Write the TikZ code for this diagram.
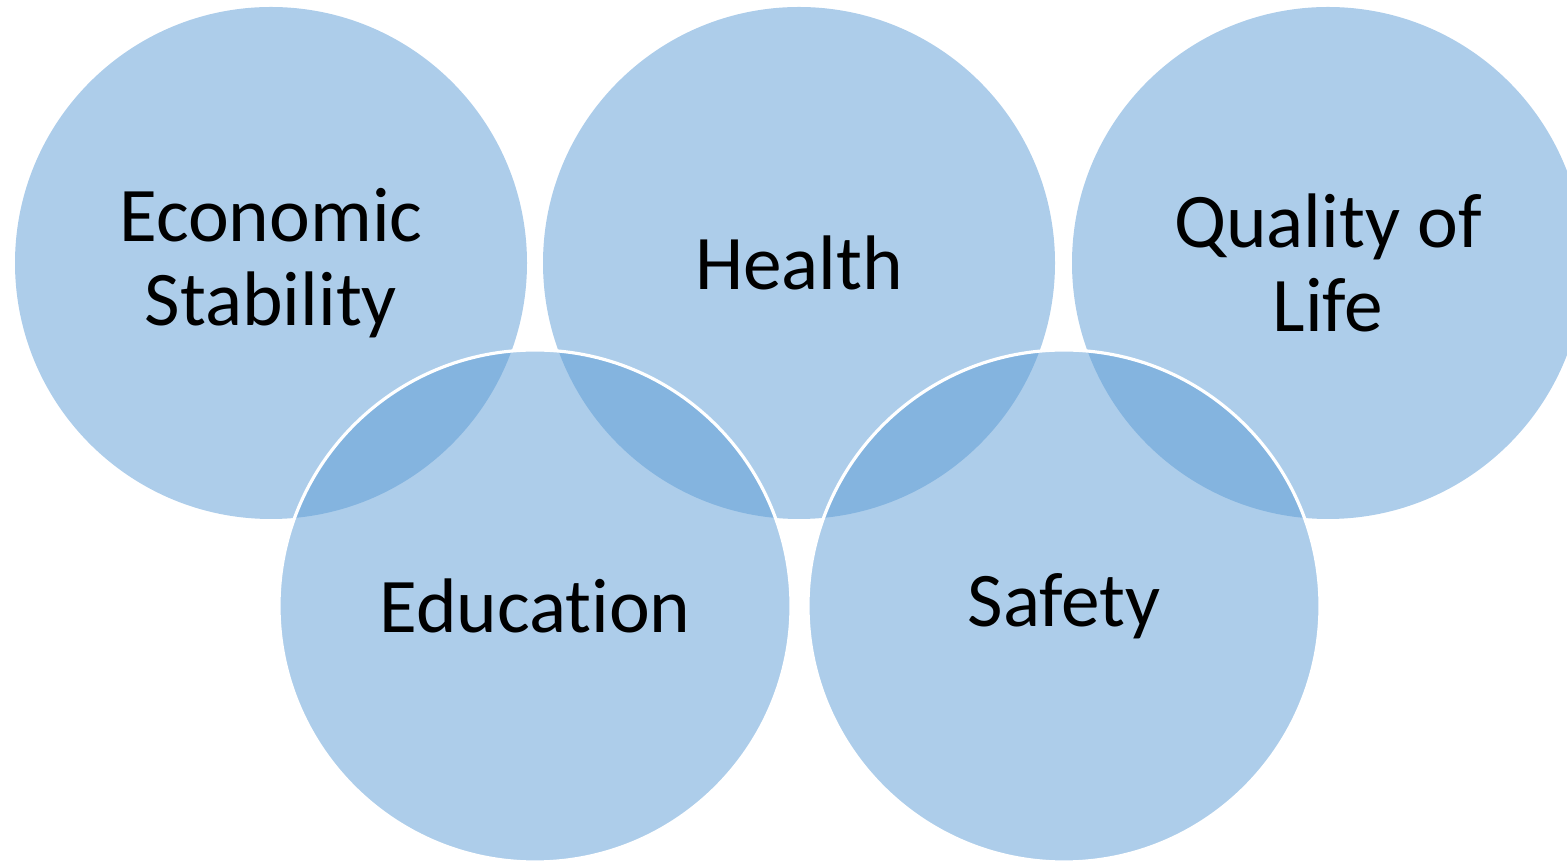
\documentclass[tikz,border=0pt]{standalone}
\usepackage{fontspec}
\setmainfont{Carlito}[Ligatures=NoCommon]
\definecolor{ringblue}{RGB}{91,155,213}

\begin{document}
\begin{tikzpicture}[%
      ring/.style={circle, minimum size=5.12cm, inner sep=0pt,
        fill=ringblue, fill opacity=0.5, text opacity=1, align=center,
        font=\fontsize{22}{24}\selectfont},
      ringedge/.style={ring, draw=white, line width=0.9pt},
      ]
      \useasboundingbox (0,0) rectangle (15.67,-8.61);
      \clip (0,0) rectangle (15.67,-8.61);

      % top row
      \node [ring] (econ) at (2.71,-2.63) {Economic\\Stability};
      \node [ring] (health) at (7.99,-2.63) {Health};
      \node [ring] (life) at (13.28,-2.63) {Quality of\\Life};

      % bottom row
      \node [ringedge] (edu) at (5.35,-6.06) {Education};
      \node [ringedge] (safety) at (10.64,-6.06) {Safety};
      \end{tikzpicture}
\end{document}
